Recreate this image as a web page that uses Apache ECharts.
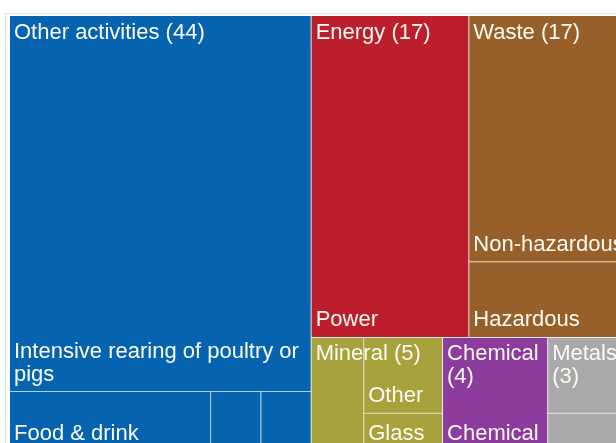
<!DOCTYPE html>
<html>
<head>
<meta charset="utf-8">
<script src="https://cdn.jsdelivr.net/npm/echarts@6/dist/echarts.min.js"></script>
<style>
html, body { margin: 0; padding: 0; background: #ffffff; }
#chart { width: 616px; height: 443px; }
</style>
</head>
<body>
<div id="chart"></div>
<script>
// ---- data ----
const categories = ['Other activities', 'Energy', 'Waste', 'Mineral', 'Chemical', 'Metals'];
const categoryValues = [44, 17, 17, 5, 4, 3];

const otherActivityNames = ['Intensive rearing of poultry or pigs', 'Food & drink', 'Paper & pulp', 'Textiles'];
const otherActivityValues = [38, 4, 1, 1];
const energyNames = ['Power'];
const energyValues = [17];
const wasteNames = ['Non-hazardous', 'Hazardous'];
const wasteValues = [13, 4];
const mineralNames = ['Cement & lime', 'Other', 'Glass'];
const mineralValues = [2, 2, 1];
const chemicalNames = ['Chemical'];
const chemicalValues = [4];
const metalsNames = ['Ferrous', 'Non-ferrous'];
const metalsValues = [2, 1];

// sub-activities whose labels do not fit in the reference
const unlabelled = ['Paper & pulp', 'Textiles', 'Cement & lime', 'Ferrous', 'Non-ferrous'];

// ---- style ----
const palette = ['#0563AF', '#BD1E2B', '#97602A', '#A7A23B', '#8E3B9E', '#A9A9A9'];
const textColor = '#fbfaf3';
const fontFamily = 'Liberation Sans, Arial, sans-serif';

function tint(hex, t) {
  const n = parseInt(hex.slice(1), 16);
  const r = (n >> 16) & 255, g = (n >> 8) & 255, b = n & 255;
  const m = v => Math.round(v + (255 - v) * t);
  return 'rgb(' + m(r) + ',' + m(g) + ',' + m(b) + ')';
}

const subNames = [otherActivityNames, energyNames, wasteNames, mineralNames, chemicalNames, metalsNames];
const subValues = [otherActivityValues, energyValues, wasteValues, mineralValues, chemicalValues, metalsValues];

function leaf(name, value, color) {
  const node = { name: name, value: value, itemStyle: { color: color } };
  if (unlabelled.indexOf(name) >= 0) node.label = { show: false };
  return node;
}

const detailData = categories.map(function (cat, i) {
  const color = palette[i];
  let kids = subNames[i].map(function (n, j) { return leaf(n, subValues[i][j], color); });
  if (cat === 'Mineral') {
    // first sub-activity in its own column, the rest stacked beside it
    const rest = kids.slice(1);
    kids = [kids[0], {
      name: cat + ' – other sub-activities',
      value: rest.reduce(function (s, k) { return s + k.value; }, 0),
      children: rest,
      itemStyle: { color: color, borderColor: tint(color, 0.7), borderWidth: 0, gapWidth: 1 }
    }];
  }
  return {
    name: cat,
    value: categoryValues[i],
    children: kids,
    itemStyle: { color: color, borderColor: tint(color, 0.7), borderWidth: 0, gapWidth: 1 }
  };
});

const labelData = categories.map(function (cat, i) {
  return { name: cat, value: categoryValues[i] };
});

const box = { left: 10, top: 16, width: 616, height: 434.5 };
const labelBase = {
  show: true, distance: 0, padding: [5, 0, 5, 4], color: textColor,
  fontFamily: fontFamily, fontSize: 22, lineHeight: 23, overflow: 'break'
};

const chart = echarts.init(document.getElementById('chart'), null, { renderer: 'canvas' });
chart.setOption({
  animation: false,
  backgroundColor: '#ffffff',
  tooltip: { show: false },
  graphic: [{
    type: 'rect', x: 5.5, y: 13.5, silent: true, z: 0,
    shape: { x: 0, y: 0, width: 700, height: 500 },
    style: { fill: 'none', stroke: '#dfe3e8', lineWidth: 1 }
  }],
  series: [
    {
      type: 'treemap',
      left: box.left, top: box.top, width: box.width, height: box.height,
      roam: false, nodeClick: false, sort: false, squareRatio: 1.08,
      breadcrumb: { show: false },
      label: Object.assign({}, labelBase, { position: 'insideBottomLeft' }),
      upperLabel: { show: false },
      itemStyle: { borderWidth: 0, gapWidth: 1, borderColor: '#f2efea' },
      levels: [
        { itemStyle: { borderWidth: 0, gapWidth: 1, borderColor: '#f2efea' } },
        { itemStyle: { borderWidth: 0, gapWidth: 1 } },
        { itemStyle: { borderWidth: 0, gapWidth: 1 } },
        { itemStyle: { borderWidth: 0, gapWidth: 1 } }
      ],
      data: detailData
    },
    {
      type: 'treemap',
      z: 5,
      silent: true,
      left: box.left, top: box.top, width: box.width, height: box.height,
      roam: false, nodeClick: false, sort: false, squareRatio: 1.08,
      breadcrumb: { show: false },
      label: Object.assign({}, labelBase, { position: 'insideTopLeft', formatter: '{b} ({c})' }),
      itemStyle: { color: 'rgba(0,0,0,0)', borderColor: 'rgba(0,0,0,0)', borderWidth: 0, gapWidth: 1 },
      levels: [
        { itemStyle: { borderWidth: 0, gapWidth: 1, borderColor: 'rgba(0,0,0,0)' } },
        { itemStyle: { borderWidth: 0, gapWidth: 1, color: 'rgba(0,0,0,0)', borderColor: 'rgba(0,0,0,0)' } }
      ],
      data: labelData
    }
  ]
});
</script>
</body>
</html>
